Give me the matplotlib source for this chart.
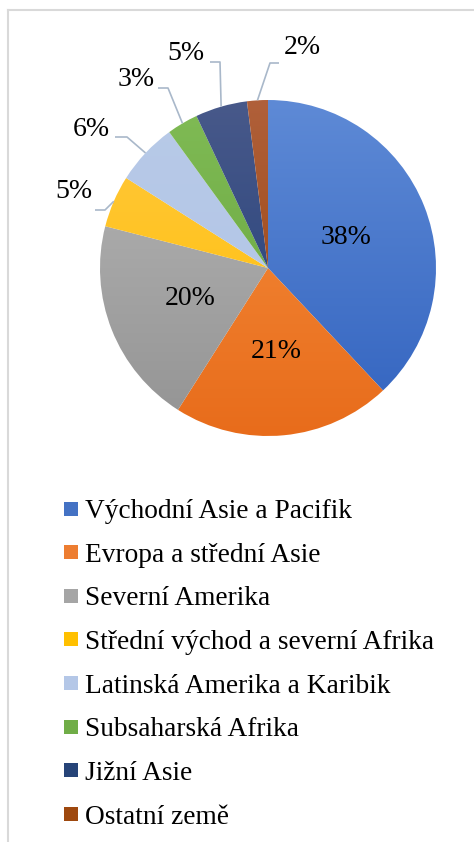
import numpy as np
import matplotlib
matplotlib.use("Agg")
import matplotlib.pyplot as plt
from matplotlib.colors import LinearSegmentedColormap
from matplotlib.lines import Line2D

regions = ["Východní Asie a Pacifik", "Evropa a střední Asie", "Severní Amerika",
           "Střední východ a severní Afrika", "Latinská Amerika a Karibik",
           "Subsaharská Afrika", "Jižní Asie", "Ostatní země"]
shares = [38, 21, 20, 5, 6, 3, 5, 2]

base_colors = ["#4472c4", "#ed7d31", "#a5a5a5", "#ffc000",
               "#b4c7e7", "#70ad47", "#264478", "#9e480e"]
top_colors = ["#5e8ad6", "#f6903f", "#b7b7b7", "#ffc840",
              "#b8cae8", "#80bb55", "#48598a", "#b0603a"]
bottom_colors = ["#3263bf", "#e86c1b", "#939393", "#ffbf00",
                 "#b0c4e6", "#64a23c", "#1f3d78", "#963f06"]

W, H = 474, 842
FONT = "Liberation Serif"

fig = plt.figure(figsize=(W / 100, H / 100), dpi=100)
ax = fig.add_axes([0, 0, 1, 1])

cx, cy, r = 268, H - 268, 168
wedges, _ = ax.pie(shares, center=(cx, cy), radius=r, startangle=90,
                   counterclock=False,
                   wedgeprops=dict(linewidth=0, facecolor="none"))

# vertical gradient fill per slice, like Excel
grad = np.linspace(0, 1, 256).reshape(-1, 1)
for w, c0, c1 in zip(wedges, top_colors, bottom_colors):
    cmap = LinearSegmentedColormap.from_list("g", [c0, c1])
    im = ax.imshow(grad, cmap=cmap, extent=(cx - r, cx + r, cy - r, cy + r),
                   origin="upper", aspect="auto", zorder=1)
    im.set_clip_path(w)

# percentage labels inside the three big slices
for i in range(3):
    w = wedges[i]
    mid = np.deg2rad((w.theta1 + w.theta2) / 2)
    ax.text(cx + 0.5 * r * np.cos(mid), cy + 0.5 * r * np.sin(mid),
            f"{shares[i]}%", ha="center", va="center",
            fontsize=20, family=FONT, zorder=3)

# outside labels with leader lines (image pixel positions)
label_pos = {3: (74, 192), 4: (91, 130), 5: (136, 80), 6: (186, 53), 7: (302, 48)}
elbows = {3: [(95, 210), (105, 210)], 4: [(115, 137), (127, 137)],
          5: [(158, 88), (168, 88)], 6: [(210, 62), (220, 62)],
          7: [(279, 63), (270, 63)]}
for i, (tx, ty) in label_pos.items():
    w = wedges[i]
    mid = np.deg2rad((w.theta1 + w.theta2) / 2)
    ex, ey = cx + r * np.cos(mid), cy + r * np.sin(mid)
    pts = [(x, H - y) for x, y in elbows[i]] + [(ex, ey)]
    xs, ys = zip(*pts)
    ax.plot(xs, ys, color="#a9b8ca", lw=1.2, zorder=2, solid_capstyle="butt")
    ax.text(tx, H - ty, f"{shares[i]}%", ha="center", va="center",
            fontsize=20, family=FONT, zorder=3)

ax.set_xlim(0, W)
ax.set_ylim(0, H)
ax.set_aspect("equal")
ax.axis("off")

# chart area border (only left and top visible)
ax.plot([8, 8], [0, H - 10], color="#d9d9d9", lw=1.5, zorder=0)
ax.plot([8, W], [H - 10, H - 10], color="#d9d9d9", lw=1.5, zorder=0)

handles = [Line2D([], [], marker="s", linestyle="none", markersize=10.5,
                  markerfacecolor=c, markeredgewidth=0) for c in base_colors]
fig.legend(handles, regions, loc="upper left", bbox_to_anchor=(63 / W, 1 - 499 / H),
           frameon=False, prop=dict(family=FONT, size=19.7), handlelength=0.6,
           handletextpad=0.2, labelspacing=0.675, borderpad=0, borderaxespad=0)

fig.savefig("out.png", dpi=100)
